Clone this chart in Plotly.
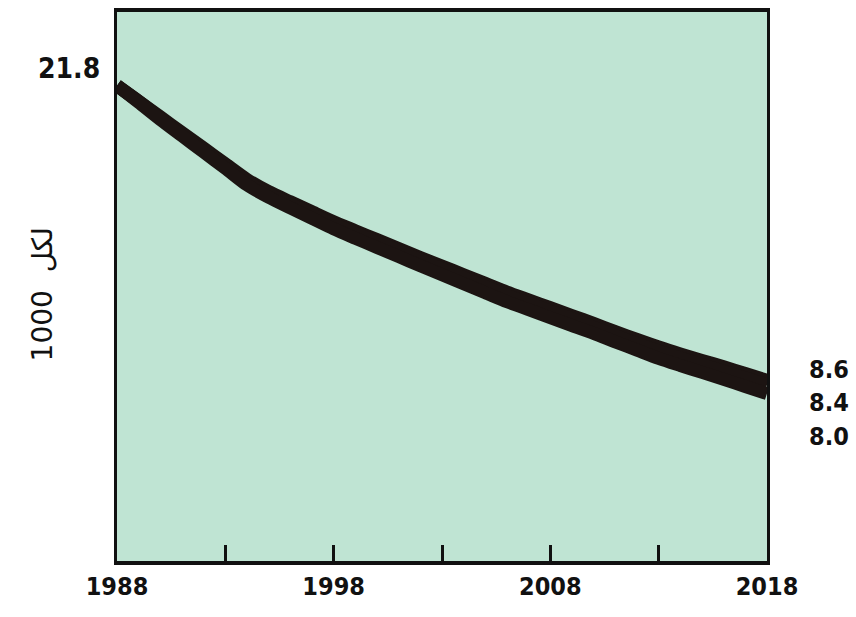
import plotly.graph_objects as go

years = list(range(1988, 2019))

series_high = [21.8, 21.1, 20.4, 19.7, 19.0, 18.3, 17.6, 17.05, 16.6, 16.15,
               15.7, 15.3, 14.9, 14.5, 14.1, 13.72, 13.33, 12.94, 12.55, 12.2,
               11.85, 11.5, 11.15, 10.78, 10.43, 10.09, 9.78, 9.49, 9.2, 8.9, 8.6]
series_mid = [21.8, 21.1, 20.35, 19.65, 18.95, 18.25, 17.5, 16.95, 16.5, 16.05,
              15.6, 15.2, 14.8, 14.4, 14.0, 13.6, 13.2, 12.8, 12.4, 12.05,
              11.7, 11.35, 10.97, 10.6, 10.25, 9.9, 9.6, 9.3, 9.0, 8.7, 8.4]
series_low = [21.8, 21.05, 20.28, 19.55, 18.82, 18.1, 17.35, 16.8, 16.32, 15.85,
              15.38, 14.96, 14.55, 14.14, 13.73, 13.33, 12.92, 12.52, 12.12, 11.76,
              11.4, 11.05, 10.7, 10.32, 9.95, 9.58, 9.26, 8.95, 8.64, 8.32, 8.0]

tick_years = [1988, 1993, 1998, 2003, 2008, 2013, 2018]
tick_text = ["1988", "", "1998", "", "2008", "", "2018"]

start_label = "21.8"
end_labels = ["8.6", "8.4", "8.0"]
end_values = [8.6, 8.4, 8.0]
end_shifts = [11, -18, -43]
y_title = "1000  لكل"

line_color = "#1c1412"
bg = "#bfe4d3"
font_fam = "DejaVu Sans Condensed, Liberation Sans Narrow, sans-serif"

fig = go.Figure()
for s in (series_high, series_mid, series_low):
    fig.add_trace(go.Scatter(x=years, y=s, mode="lines",
                             line=dict(color=line_color, width=13,
                                       shape="spline", smoothing=0.7),
                             showlegend=False, hoverinfo="skip"))

annotations = [
    dict(x=0, xref="paper", y=21.8, yref="y", text=start_label,
         showarrow=False, xanchor="right", xshift=-15, yshift=17,
         font=dict(size=28, color="#111", family=font_fam, weight=600)),
    dict(x=-0.115, xref="paper", y=0.486, yref="paper", text=y_title,
         showarrow=False, textangle=-90, xanchor="center", yanchor="middle",
         font=dict(size=28, color="#111", family="DejaVu Sans, sans-serif")),
]
for lab, v, sh in zip(end_labels, end_values, end_shifts):
    annotations.append(dict(x=1, xref="paper", y=v, yref="y", text=lab,
                            showarrow=False, xanchor="left", xshift=40, yshift=sh,
                            font=dict(size=25, color="#111", family=font_fam,
                                      weight=600)))

fig.update_layout(
    width=856, height=617,
    margin=dict(l=117, r=89, t=8, b=56),
    paper_bgcolor="white", plot_bgcolor=bg,
    annotations=annotations,
    xaxis=dict(range=[1988, 2018], tickvals=tick_years, ticktext=tick_text,
               ticks="inside", ticklen=16, tickwidth=3, tickcolor="#111",
               showgrid=False, zeroline=False, showline=True, linewidth=4,
               linecolor="#111", mirror=True,
               tickfont=dict(size=25, color="#111", family=font_fam, weight=600)),
    yaxis=dict(range=[0.5, 25.1], showticklabels=False, ticks="",
               showgrid=False, zeroline=False, showline=True, linewidth=3,
               linecolor="#111", mirror=True),
)

fig.write_html("out.html", config={"displayModeBar": False},
               post_script="document.body.style.margin='0';")
